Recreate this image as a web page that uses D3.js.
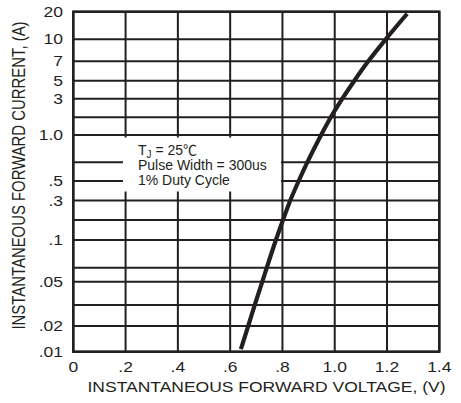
<!DOCTYPE html>
<html>
<head>
<meta charset="utf-8">
<script src="https://cdn.jsdelivr.net/npm/d3@7/dist/d3.min.js"></script>
<style>
  body { margin: 0; background: #fff; }
  svg { font-family: "Liberation Sans", Arial, "Noto Sans CJK SC", sans-serif; }
</style>
</head>
<body>
<div class="chart"></div>
<script>
// datos
var voltaje = [0.641, 0.669, 0.694, 0.723, 0.740, 0.775, 0.802, 0.830, 0.862, 0.895, 0.948, 0.985, 1.029, 1.075, 1.128, 1.195, 1.277];
var corriente = [0.0107, 0.02, 0.03, 0.05, 0.07, 0.1, 0.2, 0.3, 0.5, 0.7, 1.0, 2, 3, 5, 7, 10, 19];

var xTicks = [0, 0.2, 0.4, 0.6, 0.8, 1.0, 1.2, 1.4];
var xTickLabels = ["0", ".2", ".4", ".6", ".8", "1.0", "1.2", "1.4"];
var yGrid = [0.01, 0.02, 0.03, 0.05, 0.07, 0.1, 0.2, 0.3, 0.5, 0.7, 1, 2, 3, 5, 7, 10, 20];
var yTicks = [0.01, 0.02, 0.05, 0.1, 0.3, 0.5, 1, 3, 5, 7, 10, 20];
var yTickLabels = [".01", ".02", ".05", ".1", ".3", ".5", "1.0", "3", "5", "7", "10", "20"];

var ancho = 461, alto = 403;
var izq = 73.3, der = 439.3;
// posiciones (px) de las lineas de la rejilla, la escala del datasheet no es log pura
var yPos = [351.7, 326, 305, 281.7, 267.7, 240, 220, 200.5, 181, 162.3, 135, 117.3, 98.7, 80.7, 61.3, 39.3, 11.7];
var arriba = 11.7, abajo = 351.7;
var tinta = "#231f20";
var estirar = 1.25; // el texto del original esta ensanchado

var svg = d3.select(".chart").append("svg")
    .attr("width", ancho)
    .attr("height", alto);

var x = d3.scaleLinear().domain([0, 1.4]).range([izq, der]);
var y = d3.scaleLog().domain(yGrid).range(yPos);

// rejilla horizontal
svg.selectAll("line.hgrid")
    .data(yGrid)
    .enter().append("line")
    .attr("class", "hgrid")
    .attr("x1", izq).attr("x2", der)
    .attr("y1", function(d) { return y(d); })
    .attr("y2", function(d) { return y(d); })
    .attr("stroke", tinta)
    .attr("stroke-width", 2);

// rejilla vertical
svg.selectAll("line.vgrid")
    .data(xTicks)
    .enter().append("line")
    .attr("class", "vgrid")
    .attr("x1", function(d) { return x(d); })
    .attr("x2", function(d) { return x(d); })
    .attr("y1", arriba).attr("y2", abajo)
    .attr("stroke", tinta)
    .attr("stroke-width", 2);

// caja blanca de la leyenda
svg.append("rect")
    .attr("x", 123).attr("y", 137.5)
    .attr("width", 158).attr("height", 54)
    .attr("fill", "#fff");

// marco
svg.append("rect")
    .attr("x", izq).attr("y", arriba)
    .attr("width", der - izq).attr("height", abajo - arriba)
    .attr("fill", "none")
    .attr("stroke", tinta)
    .attr("stroke-width", 2.5);

// curva
var puntos = voltaje.map(function(v, i) { return [v, corriente[i]]; });
var linea = d3.line()
    .x(function(d) { return x(d[0]); })
    .y(function(d) { return y(d[1]); })
    .curve(d3.curveCatmullRom.alpha(0.5));

svg.append("path")
    .datum(puntos)
    .attr("d", linea)
    .attr("fill", "none")
    .attr("stroke", tinta)
    .attr("stroke-width", 4.2);

// etiquetas eje x
svg.selectAll("text.xlab")
    .data(xTicks)
    .enter().append("text")
    .attr("class", "xlab")
    .attr("transform", function(d) { return "translate(" + x(d) + ",372) scale(" + estirar + ",1)"; })
    .attr("text-anchor", "middle")
    .attr("font-size", 14)
    .attr("fill", tinta)
    .text(function(d, i) { return xTickLabels[i]; });

// etiquetas eje y
svg.selectAll("text.ylab")
    .data(yTicks)
    .enter().append("text")
    .attr("class", "ylab")
    .attr("transform", function(d) { return "translate(63," + (y(d) + 5) + ") scale(" + estirar + ",1)"; })
    .attr("text-anchor", "end")
    .attr("font-size", 14)
    .attr("fill", tinta)
    .text(function(d, i) { return yTickLabels[i]; });

// titulos
svg.append("text")
    .attr("transform", "translate(266.5,392) scale(" + estirar + ",1)")
    .attr("text-anchor", "middle")
    .attr("font-size", 14)
    .attr("fill", tinta)
    .text("INSTANTANEOUS FORWARD VOLTAGE, (V)");

svg.append("text")
    .attr("transform", "translate(25,175.5) scale(" + estirar + ",1) rotate(-90)")
    .attr("text-anchor", "middle")
    .attr("font-size", 14.9)
    .attr("fill", tinta)
    .text("INSTANTANEOUS FORWARD CURRENT, (A)");

// texto de condiciones
var nota = svg.append("g").attr("font-size", 14).attr("fill", tinta);
var t1 = nota.append("text").attr("x", 138).attr("y", 155);
t1.append("tspan").text("T");
t1.append("tspan").attr("font-size", 10).attr("dy", 3).text("J");
t1.append("tspan").attr("dy", -3).text(" = 25\u2103");
nota.append("text").attr("x", 138).attr("y", 170).text("Pulse Width = 300us");
nota.append("text").attr("x", 138).attr("y", 185).text("1% Duty Cycle");
</script>
</body>
</html>
